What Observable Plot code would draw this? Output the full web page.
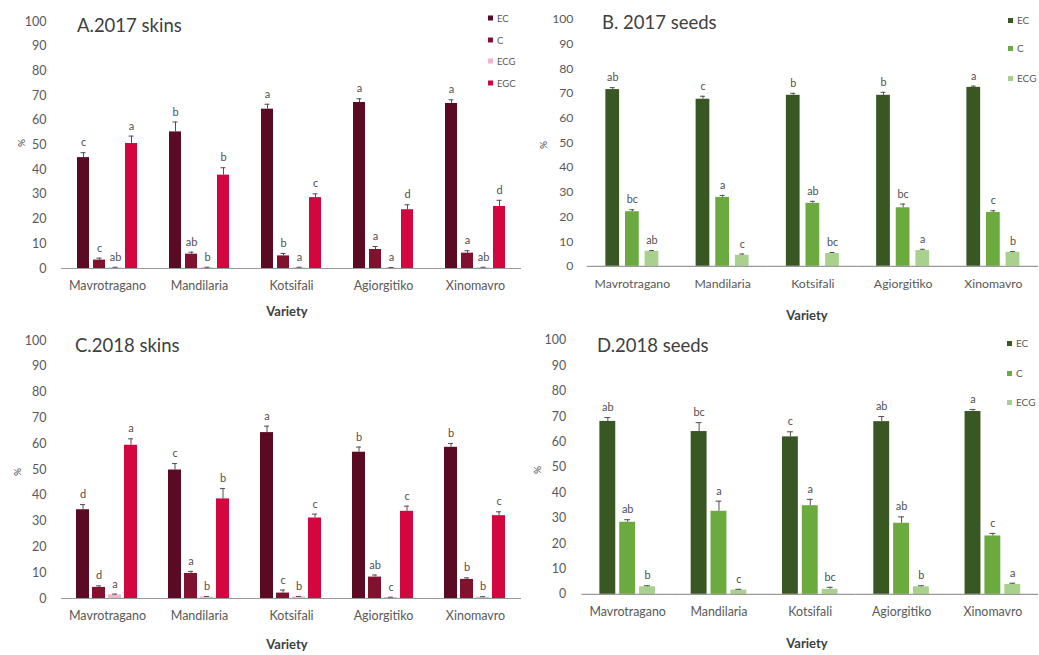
<!DOCTYPE html>
<html>
<head>
<meta charset="utf-8">
<script src="https://cdn.jsdelivr.net/npm/d3@7"></script>
<script src="https://cdn.jsdelivr.net/npm/@observablehq/plot@0.6"></script>
<style>
  html, body { margin:0; padding:0; background:#fff; }
  body { width:1039px; height:655px; position:relative; overflow:hidden; font-family: Lato, "Open Sans", sans-serif; }
  .panel { position:absolute; }
  .abs { position:absolute; white-space:nowrap; color:#404040; }
  .title { font-size:18.5px; color:#404040; line-height:1; }
  .xlab { font-size:13px; font-weight:bold; color:#404040; transform:translate(-50%,-50%); }
  .pct { font-size:10px; color:#404040; transform:translate(-50%,-50%); }
  .leg { font-size:9.5px; color:#595959; display:flex; align-items:center; transform:translateY(-50%); }
  .leg i { display:inline-block; width:5px; height:5px; margin-right:4px; }
</style>
</head>
<body>
<script>
// ---------- data ----------
const varieties = ["Mavrotragano", "Mandilaria", "Kotsifali", "Agiorgitiko", "Xinomavro"];
const skinCompounds = ["EC", "C", "ECG", "EGC"];
const seedCompounds = ["EC", "C", "ECG"];
const skinColors = ["#5a0a22", "#80112f", "#f6b3c7", "#d3063f"];
const seedColors = ["#385723", "#6aaa3e", "#a9d18e"];
const yTicks = [0, 10, 20, 30, 40, 50, 60, 70, 80, 90, 100];

// A. 2017 skins (rows: EC, C, ECG, EGC)
const skins2017Values = [
  [44.9, 55.3, 64.5, 67.2, 66.8],
  [3.4, 5.8, 5.1, 7.7, 6.2],
  [0.3, 0.3, 0.3, 0.2, 0.3],
  [50.6, 37.8, 28.7, 23.8, 25.1]
];
const skins2017Errors = [
  [2, 4, 2, 1.5, 1.5],
  [0.8, 0.8, 1, 1.2, 1],
  [0.2, 0.2, 0.2, 0.2, 0.2],
  [3, 3, 1.5, 2, 2.5]
];
const skins2017Letters = [
  ["c", "b", "a", "a", "a"],
  ["c", "ab", "b", "a", "a"],
  ["ab", "b", "a", "a", "ab"],
  ["a", "b", "c", "d", "d"]
];

// B. 2017 seeds (rows: EC, C, ECG)
const seeds2017Values = [
  [71.5, 67.6, 69.2, 69.2, 72.4],
  [22.1, 27.9, 25.5, 23.7, 21.8],
  [6.1, 4.5, 5.2, 6.4, 5.7]
];
const seeds2017Errors = [
  [0.8, 1.2, 0.8, 1.2, 0.5],
  [0.8, 0.8, 0.8, 1.5, 0.7],
  [0.3, 0.5, 0.4, 0.5, 0.3]
];
const seeds2017Letters = [
  ["ab", "c", "b", "b", "a"],
  ["bc", "a", "ab", "bc", "c"],
  ["ab", "c", "bc", "a", "b"]
];

// C. 2018 skins
const skins2018Values = [
  [34.4, 49.8, 64.3, 56.7, 58.6],
  [4.3, 9.7, 2.1, 8.3, 7.4],
  [1.4, 0.6, 0.6, 0.4, 0.5],
  [59.4, 38.6, 31.2, 33.8, 32.1]
];
const skins2018Errors = [
  [2, 2.5, 2.5, 2, 1.5],
  [0.6, 0.8, 1.2, 0.8, 0.6],
  [0.3, 0.2, 0.2, 0.1, 0.2],
  [2.5, 4, 1.5, 2, 1.5]
];
const skins2018Letters = [
  ["d", "c", "a", "b", "b"],
  ["d", "a", "c", "ab", "b"],
  ["a", "b", "b", "c", "b"],
  ["a", "b", "c", "c", "c"]
];

// D. 2018 seeds
const seeds2018Values = [
  [68.1, 64.1, 62.0, 68.0, 72.0],
  [28.4, 32.7, 34.9, 28.0, 23.0],
  [3.0, 1.7, 2.0, 3.0, 3.9]
];
const seeds2018Errors = [
  [1.5, 3.5, 2, 2, 0.8],
  [1, 4, 2.5, 2.5, 1],
  [0.4, 0.3, 0.8, 0.4, 0.5]
];
const seeds2018Letters = [
  ["ab", "bc", "c", "ab", "a"],
  ["ab", "a", "a", "ab", "c"],
  ["b", "c", "bc", "b", "a"]
];

// ---------- helpers ----------
function rowsOf(compounds, values, errors, letters) {
  const rows = [];
  compounds.forEach((c, ci) => varieties.forEach((v, vi) => {
    rows.push({variety: v, compound: c, value: values[ci][vi], err: errors[ci][vi], letter: letters[ci][vi]});
  }));
  return rows;
}

function panel(cfg) {
  const rows = rowsOf(cfg.compounds, cfg.values, cfg.errors, cfg.letters);
  const plotW = 462;
  const chart = Plot.plot({
    width: cfg.marginLeft + plotW + cfg.marginRight,
    height: cfg.height,
    marginLeft: cfg.marginLeft,
    marginRight: cfg.marginRight,
    marginTop: cfg.marginTop,
    marginBottom: cfg.marginBottom,
    style: {fontFamily: "Lato, 'Open Sans', sans-serif", fontSize: "12.5px", color: "#595959", background: "transparent", overflow: "visible"},
    fx: {domain: varieties, paddingInner: 0, paddingOuter: 0, label: null, tickSize: 0, tickPadding: cfg.fxPad, fontSize: 13},
    x: {domain: cfg.compounds, paddingInner: cfg.pIn, paddingOuter: cfg.pOut, axis: null},
    y: {domain: [0, 100], ticks: yTicks, tickSize: 0, tickPadding: cfg.yPad, label: null},
    color: {domain: cfg.compounds, range: cfg.colors},
    marks: [
      Plot.barY(rows, {fx: "variety", x: "compound", y: "value", fill: "compound"}),
      Plot.ruleX(rows, {fx: "variety", x: "compound", y1: "value", y2: d => d.value + d.err, stroke: "#505050", strokeWidth: 1}),
      Plot.tickY(rows, {fx: "variety", x: "compound", y: d => d.value + d.err, stroke: "#505050", strokeWidth: 1, insetLeft: cfg.capInset, insetRight: cfg.capInset}),
      Plot.text(rows, {fx: "variety", x: "compound", y: d => d.value + d.err, text: "letter", dy: -10, fontSize: 11, fill: "#505050"}),
      Plot.ruleY([0], {stroke: "#9a9a9a", strokeWidth: 1.2})
    ]
  });
  const div = document.createElement("div");
  div.className = "panel";
  div.style.left = cfg.left + "px";
  div.style.top = cfg.top + "px";
  div.appendChild(chart);
  document.body.appendChild(div);
}

function addText(cls, text, x, y, extra) {
  const d = document.createElement("div");
  d.className = "abs " + cls;
  d.textContent = text;
  d.style.left = x + "px";
  d.style.top = y + "px";
  if (extra) Object.assign(d.style, extra);
  document.body.appendChild(d);
}

function legend(items, colors, x, ys, fontSize) {
  items.forEach((t, i) => {
    const d = document.createElement("div");
    d.className = "abs leg";
    d.style.left = x + "px";
    d.style.top = ys[i] + "px";
    if (fontSize) d.style.fontSize = fontSize + "px";
    const sw = document.createElement("i");
    sw.style.background = colors[i];
    d.appendChild(sw);
    d.appendChild(document.createTextNode(t));
    document.body.appendChild(d);
  });
}

// ---------- panels ----------
panel({left: 0, top: 0, height: 320, marginLeft: 60, marginRight: 3, marginTop: 21, marginBottom: 52,
  compounds: skinCompounds, colors: skinColors, values: skins2017Values, errors: skins2017Errors, letters: skins2017Letters,
  pIn: 0.22, pOut: 0.88, yPad: 15, fxPad: 13, capInset: 3.5});
panel({left: 520, top: 0, height: 320, marginLeft: 67, marginRight: 0, marginTop: 19, marginBottom: 49,
  compounds: seedCompounds, colors: seedColors, values: seeds2017Values, errors: seeds2017Errors, letters: seeds2017Letters,
  pIn: 0.286, pOut: 0.843, yPad: 14, fxPad: 13, capInset: 4.5});
panel({left: 0, top: 320, height: 335, marginLeft: 60, marginRight: 3, marginTop: 20, marginBottom: 57,
  compounds: skinCompounds, colors: skinColors, values: skins2018Values, errors: skins2018Errors, letters: skins2018Letters,
  pIn: 0.16, pOut: 0.85, yPad: 15, fxPad: 13, capInset: 4});
panel({left: 520, top: 320, height: 335, marginLeft: 61, marginRight: 0, marginTop: 20, marginBottom: 59,
  compounds: seedCompounds, colors: seedColors, values: seeds2018Values, errors: seeds2018Errors, letters: seeds2018Letters,
  pIn: 0.22, pOut: 0.86, yPad: 16, fxPad: 13, capInset: 5});

// titles
addText("title", "A.2017 skins", 77, 16);
addText("title", "B. 2017 seeds", 602, 13);
addText("title", "C.2018 skins", 75, 336);
addText("title", "D.2018 seeds", 597, 336);

// axis titles
addText("xlab", "Variety", 287, 311);
addText("xlab", "Variety", 807, 315);
addText("xlab", "Variety", 287, 644);
addText("xlab", "Variety", 807, 643);
addText("pct", "%", 21, 143, {transform: "translate(-50%,-50%) rotate(-90deg)"});
addText("pct", "%", 543, 145, {transform: "translate(-50%,-50%) rotate(-90deg)"});
addText("pct", "%", 17, 472, {transform: "translate(-50%,-50%) rotate(-90deg)"});
addText("pct", "%", 537, 470, {transform: "translate(-50%,-50%) rotate(-90deg)"});

// legends
legend(skinCompounds, skinColors, 488, [18, 40, 61, 83]);
legend(seedCompounds, seedColors, 1008, [20, 48, 78], 10);
legend(seedCompounds, seedColors, 1007, [343, 373, 402], 10);
</script>
</body>
</html>
